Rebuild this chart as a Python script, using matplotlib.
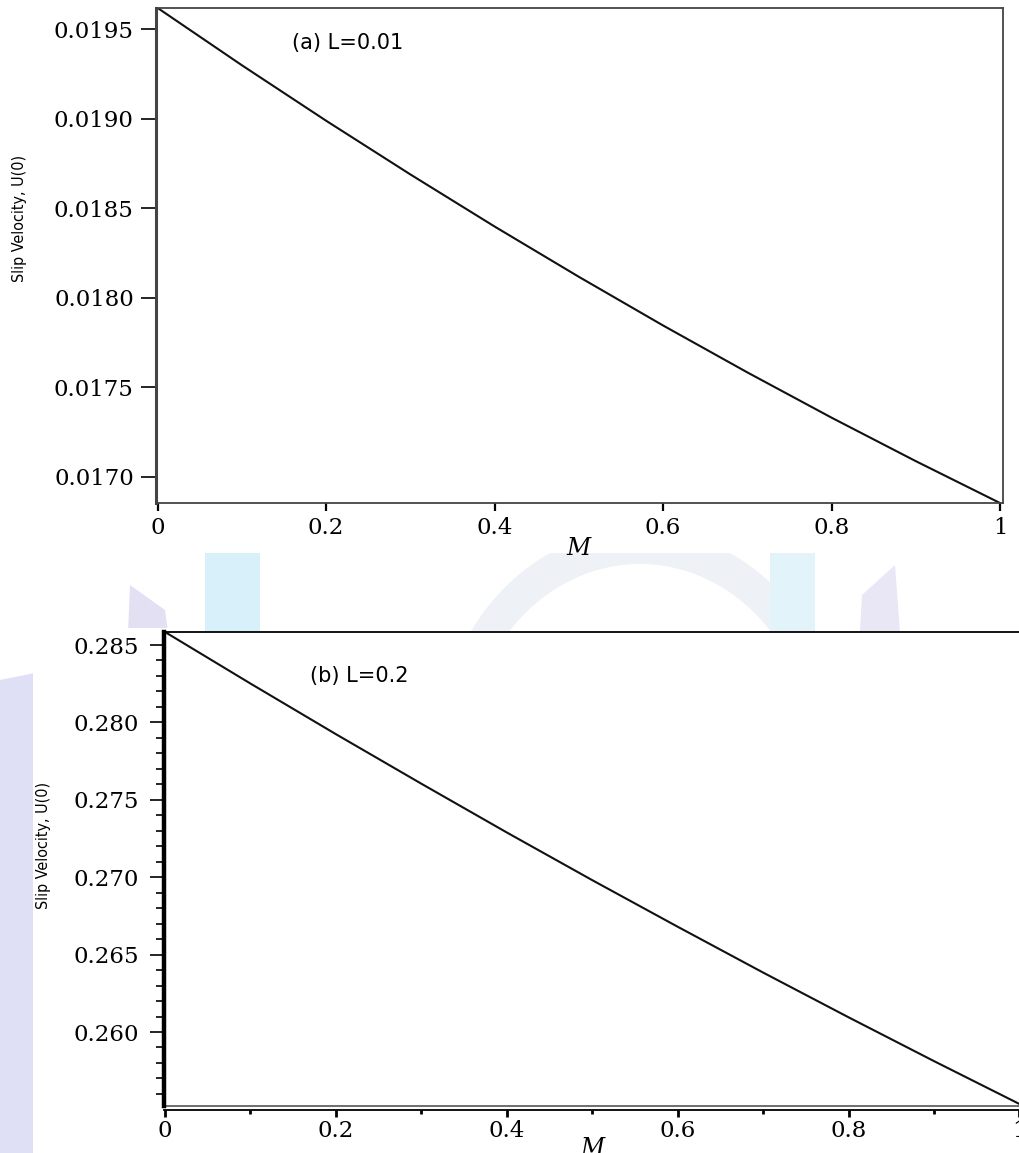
import matplotlib.pyplot as plt
from matplotlib.patches import Polygon, Rectangle, Wedge
from matplotlib.ticker import MultipleLocator, FixedLocator

# Magnetic parameter M and slip velocity U(0)
M = [0.0, 0.1, 0.2, 0.3, 0.4, 0.5, 0.6, 0.7, 0.8, 0.9, 1.0]
u_slip_a = [0.019620, 0.019300, 0.018990, 0.018690, 0.018399, 0.018118,
            0.017846, 0.017584, 0.017331, 0.017088, 0.016854]
u_slip_b = [0.28584, 0.28251, 0.27924, 0.27604, 0.27289, 0.26981,
            0.26680, 0.26384, 0.26095, 0.25812, 0.25535]

x_ticks = [0, 0.2, 0.4, 0.6, 0.8, 1]
x_tick_labels = ["0", "0.2", "0.4", "0.6", "0.8", "1"]
y_ticks_a = [0.0170, 0.0175, 0.0180, 0.0185, 0.0190, 0.0195]
y_ticks_b = [0.260, 0.265, 0.270, 0.275, 0.280, 0.285]

W, H = 1019, 1153
SERIF = ["DejaVu Serif"]
SANS = ["DejaVu Sans"]
TICK_FS = 16.5


def px_box(left, top, right, bottom):
    return [left / W, 1 - bottom / H, (right - left) / W, (bottom - top) / H]


def fig_patch(patch, colour, z):
    patch.set_transform(fig.transFigure)
    patch.set_facecolor(colour)
    patch.set_edgecolor("none")
    patch.set_zorder(z)
    fig.patches.append(patch)


fig = plt.figure(figsize=(W / 100, H / 100), dpi=100)
fig.patch.set_facecolor("white")

# faint watermark showing between and beside the panels
fig_patch(Polygon([(0, 0), (0, 1 - 680 / H), (100 / W, 1 - 660 / H), (100 / W, 0)]),
          "#dfdff5", -3)
fig_patch(Wedge((640 / W, 1 - 760 / H), 0.2, 30, 150, width=0.03), "#eef1f5", -3)
fig_patch(Rectangle((205 / W, 1 - 632 / H), 55 / W, 80 / H), "#d8f0f9", -3)
fig_patch(Polygon([(128 / W, 1 - 632 / H), (130 / W, 1 - 585 / H), (165 / W, 1 - 610 / H),
                   (168 / W, 1 - 632 / H)]), "#e4e0f4", -3)
fig_patch(Polygon([(860 / W, 1 - 632 / H), (862 / W, 1 - 595 / H), (895 / W, 1 - 565 / H),
                   (900 / W, 1 - 632 / H)]), "#e9e6f6", -3)
fig_patch(Rectangle((770 / W, 1 - 632 / H), 45 / W, 85 / H), "#e3f3fa", -3)
# opaque white areas of the two pasted plots
fig_patch(Rectangle((0, 1 - 553 / H), 1, 553 / H), "white", -1)
fig_patch(Rectangle((33 / W, 0), 140 / W, 1 - 628 / H), "white", -1)

# ---- panel (a) ----
ax_a = fig.add_axes(px_box(156, 8, 1003, 503))
ax_a.plot(M, u_slip_a, color="#111111", linewidth=1.5)
ax_a.set_xlim(-0.002, 1.0036)
ax_a.set_ylim(u_slip_a[-1], u_slip_a[0])
for side in ax_a.spines.values():
    side.set_color("#444444")
    side.set_linewidth(1.3)
ax_a.spines["left"].set_linewidth(2.2)
ax_a.set_yticks(y_ticks_a)
ax_a.set_yticklabels([f"{v:.4f}" for v in y_ticks_a], family=SERIF, fontsize=TICK_FS)
ax_a.set_xticks(x_ticks)
ax_a.set_xticklabels(x_tick_labels, family=SERIF, fontsize=TICK_FS)
ax_a.tick_params(axis="y", direction="out", length=11, width=1.2, pad=5)
ax_a.tick_params(axis="x", direction="out", length=6, width=1.6, pad=4)
ax_a.set_ylabel("Slip Velocity, U(0)", family=SANS, fontstretch="condensed", fontsize=11.5)
ax_a.yaxis.set_label_coords((27 - 156) / 847, 1 - (218 - 8) / 495)
ax_a.set_xlabel("M", family=SERIF, style="italic", fontsize=17)
ax_a.xaxis.set_label_coords((578 - 156) / 847, -(537 - 503) / 495)
ax_a.text((292 - 156) / 847, 1 - (43 - 8) / 495, "(a) L=0.01", transform=ax_a.transAxes,
          family=SANS, fontsize=15, va="center", ha="left")

# ---- panel (b) ----
ax_b = fig.add_axes(px_box(164, 632, 1022, 1106))
ax_b.plot(M, u_slip_b, color="#111111", linewidth=1.5)
ax_b.set_xlim(-0.0012, 1.003)
ax_b.set_ylim(0.25522, u_slip_b[0])
ax_b.spines["right"].set_visible(False)
ax_b.spines["top"].set_linewidth(1.3)
ax_b.spines["left"].set_linewidth(3.2)
ax_b.spines["bottom"].set_linewidth(1.3)
ax_b.spines["bottom"].set_position(("outward", 3))
ax_b.axhline(0.25522, color="#555555", linewidth=1.2, clip_on=False)
ax_b.set_yticks(y_ticks_b)
ax_b.set_yticklabels([f"{v:.3f}" for v in y_ticks_b], family=SERIF, fontsize=TICK_FS)
ax_b.yaxis.set_minor_locator(FixedLocator([0.256 + 0.001 * k for k in range(30)]))
ax_b.set_xticks(x_ticks)
ax_b.set_xticklabels(x_tick_labels, family=SERIF, fontsize=TICK_FS)
ax_b.xaxis.set_minor_locator(MultipleLocator(0.1))
ax_b.tick_params(axis="y", which="major", direction="out", length=10, width=1.2, pad=8)
ax_b.tick_params(axis="y", which="minor", direction="out", length=6, width=1.2)
ax_b.tick_params(axis="x", which="major", direction="out", length=5, width=2.0, pad=2)
ax_b.tick_params(axis="x", which="minor", direction="out", length=3, width=2.0)
ax_b.set_ylabel("Slip Velocity, U(0)", family=SANS, fontstretch="condensed", fontsize=11.5)
ax_b.yaxis.set_label_coords((51 - 164) / 858, 1 - (845 - 632) / 474)
ax_b.set_xlabel("M", family=SERIF, style="italic", fontsize=17)
ax_b.xaxis.set_label_coords((592 - 164) / 858, -(1137 - 1106) / 474)
ax_b.text((310 - 164) / 858, 1 - (676 - 632) / 474, "(b) L=0.2", transform=ax_b.transAxes,
          family=SANS, fontsize=15, va="center", ha="left")

fig.savefig("out.png", dpi=100)
